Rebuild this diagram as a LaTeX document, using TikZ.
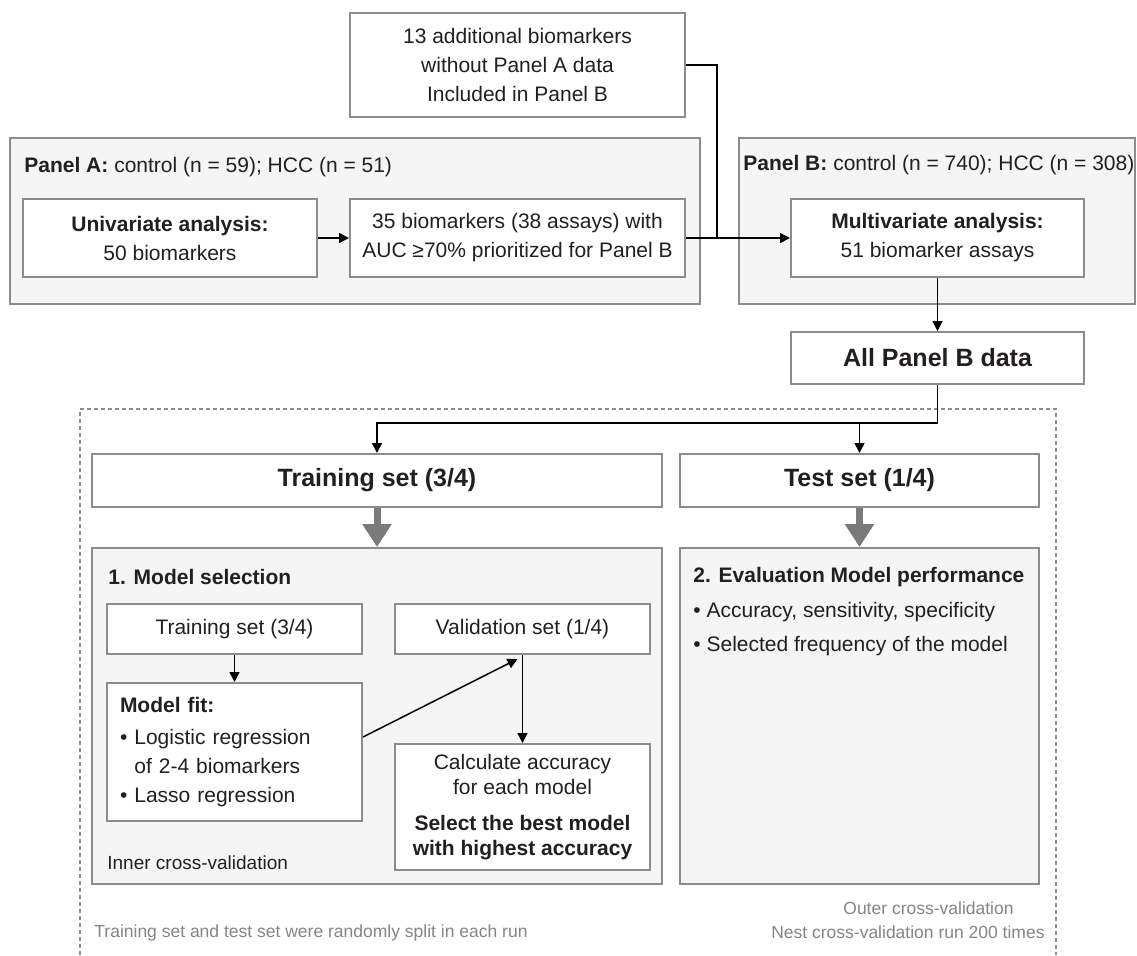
\documentclass[tikz,border=0pt]{standalone}
\usepackage{fontspec}
\setmainfont{Liberation Sans}
\usetikzlibrary{arrows.meta}
\definecolor{inkdark}{HTML}{231F20}
\definecolor{edgegray}{HTML}{8C8C8C}
\definecolor{arrowgray}{HTML}{7A7A7A}
\definecolor{notegray}{HTML}{858585}

\begin{document}
\begin{tikzpicture}[x=0.5pt,y=-0.5pt,
	font=\fontsize{10.5pt}{14.5pt}\selectfont, text=inkdark,
	panel/.style={draw=edgegray, fill=gray!8, line width=1pt, inner sep=0pt},
	box/.style={draw=edgegray, fill=white, line width=1pt, inner sep=3pt, align=center},
	title/.style={font=\fontsize{12.5pt}{15pt}\selectfont\bfseries},
	label/.style={anchor=west, inner sep=0pt},
	arr/.style={-{Triangle[length=5pt,width=5pt]}, line width=0.75pt},
	fatarr/.style={-{Triangle[length=11.5pt,width=14pt]}, line width=3.5pt, draw=arrowgray},
	note/.style={text=notegray, font=\fontsize{8.75pt}{10.5pt}\selectfont, inner sep=0pt}]
	\useasboundingbox[fill=white] (0,0) rectangle (1137,955);
	\node[box, minimum width=167.5pt, minimum height=52pt] (extra) at (517.5,65) {13 additional biomarkers\\without Panel A data\\Included in Panel B};
	\node[panel, minimum width=345pt, minimum height=83pt] (panelA) at (355,221) {};
	\node[panel, minimum width=198pt, minimum height=83pt] (panelB) at (937,221) {};
	\node[label] (labA) at (24,167) {\textbf{Panel A:} control (n = 59); HCC (n = 51)};
	\node[label] (labB) at (743,165) {\textbf{Panel B:} control (n = 740); HCC (n = 308)};
	\node[box, minimum width=147pt, minimum height=39pt] (uni) at (170,238) {\textbf{Univariate analysis:}\\50 biomarkers};
	\node[box, minimum width=167.5pt, minimum height=39pt] (prior) at (517.5,238) {35 biomarkers (38 assays) with\\AUC ≥70\% prioritized for Panel B};
	\node[box, minimum width=146.5pt, minimum height=39pt] (multi) at (937.5,238) {\textbf{Multivariate analysis:}\\51 biomarker assays};
	\node[box, title, minimum width=146.5pt, minimum height=26pt] (allB) at (937.5,358) {All Panel B data};
	\draw[edgegray, line width=0.9pt, dash pattern=on 2pt off 1.5pt] (80,955) -- (80,409) -- (1056,409) -- (1056,955);
	\node[box, title, minimum width=285pt, minimum height=26.5pt] (train) at (377,480.5) {Training set (3/4)};
	\node[box, title, minimum width=179.5pt, minimum height=26.5pt] (test) at (859.5,480.5) {Test set (1/4)};
	\node[panel, minimum width=285pt, minimum height=168pt] (select) at (377,716) {};
	\node[panel, minimum width=179.5pt, minimum height=168pt] (evalp) at (859.5,716) {};
	\node[label] (selT) at (108,577) {\textbf{1. Model selection}};
	\node[label] (evalT) at (693,577) {\textbf{2. Evaluation Model performance}};
	\node[label, align=left, font=\fontsize{10.5pt}{17pt}\selectfont] (evalL) at (693,629) {\textbullet\ Accuracy, sensitivity, specificity\\\textbullet\ Selected frequency of the model};
	\node[box, minimum width=127.5pt, minimum height=25pt] (trIn) at (234.5,629) {Training set (3/4)};
	\node[box, minimum width=127.5pt, minimum height=25pt] (valIn) at (522.5,629) {Validation set (1/4)};
	\node[box, minimum width=127.5pt, minimum height=69pt, align=left, inner xsep=6.5pt, text width=114.5pt] (fit) at (234.5,752) {\textbf{Model fit:}\\[1.5pt]\textbullet\ Logistic regression\\\phantom{\textbullet\ }of 2-4 biomarkers\\\textbullet\ Lasso regression};
	\node[box, minimum width=127.5pt, minimum height=63pt, font=\fontsize{10.5pt}{12.5pt}\selectfont] (calc) at (522.5,807) {Calculate accuracy\\for each model\\[5.5pt]\textbf{Select the best model}\\\textbf{with highest accuracy}};
	\node[label, font=\fontsize{9.5pt}{11pt}\selectfont] (innerL) at (107,863) {Inner cross-validation};
	\node[note, anchor=west] (splitN) at (94,933) {Training set and test set were randomly split in each run};
	\node[note, anchor=east] (outerN) at (1014,908) {Outer cross-validation};
	\node[note, anchor=east] (runsN) at (1045,932) {Nest cross-validation run 200 times};
	\coordinate (join) at (717,238);
	\coordinate (split) at (937.5,423);
	\draw[line width=0.75pt] (extra.east) -| (join);
	\draw[arr] (uni) -- (prior);
	\draw[arr] (prior) -- (multi);
	\draw[arr] (multi) -- (allB);
	\draw[arr] (allB) -- (split) -| (train);
	\draw[arr] (split -| test) -- (test);
	\draw[fatarr] (train) -- (select);
	\draw[fatarr] (test) -- (evalp);
	\draw[arr] (trIn) -- (fit);
	\draw[arr] (valIn) -- (calc);
	\draw[arr] ([yshift=7.5pt]fit.east) -- ([xshift=-2.5pt,yshift=-2pt]valIn.south);
\end{tikzpicture}
\end{document}
